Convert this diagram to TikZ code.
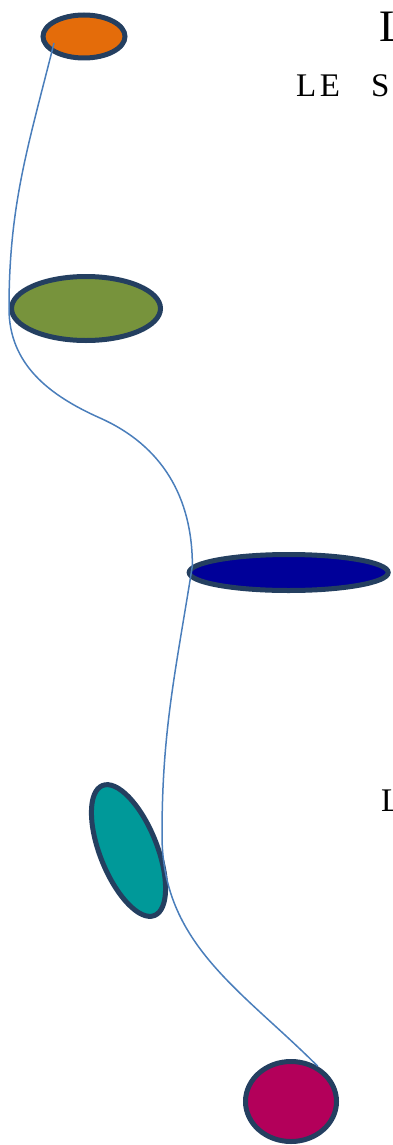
\documentclass[tikz,border=0pt]{standalone}
\usepackage{fontspec}
\setmainfont{Liberation Serif}
\usetikzlibrary{shapes.geometric,calc}
\definecolor{rim}{HTML}{243F60}
\definecolor{wire}{HTML}{4A7EBB}
\definecolor{orangefill}{HTML}{E46C0A}
\definecolor{greenfill}{HTML}{77933C}
\definecolor{navyfill}{HTML}{000099}
\definecolor{tealfill}{HTML}{009999}
\definecolor{berryfill}{HTML}{B3005A}
\begin{document}
\begin{tikzpicture}[x=1pt,y=1pt,
  blob/.style={ellipse, draw=rim, line width=5pt, inner sep=0pt},
  wirepath/.style={draw=wire, line width=1.5pt},
  letters/.style={anchor=base west, inner sep=0pt}]
\useasboundingbox (0,0) rectangle (392,-1145);
\clip (0,0) rectangle (392,-1145);

% the five ellipses
\node[blob, fill=orangefill, minimum width=82pt, minimum height=43pt] (orange) at (84,-36.5) {};
\node[blob, fill=greenfill, minimum width=149pt, minimum height=64pt] (green) at (86,-308.5) {};
\node[blob, fill=navyfill, minimum width=199pt, minimum height=36pt] (navy) at (288.7,-572.5) {};
\node[blob, fill=tealfill, minimum width=140pt, minimum height=57pt, rotate=-68.2] (teal) at (128.5,-850.5) {};
\node[blob, fill=berryfill, minimum width=91pt, minimum height=80pt] (berry) at (291,-1101.5) {};

% texts cut by the right edge
\node[letters, font=\fontsize{45}{45}\selectfont] (head) at (379,-42) {L};
\node[letters, font=\fontsize{33}{33}\selectfont] (sub) at (296,-97) {L\kern3.5pt E\hspace{31pt}S};
\node[letters, font=\fontsize{33}{33}\selectfont] (lower) at (381,-811) {L};

% the thread through them
\coordinate (start) at ($(orange.center)+(-30,-6.5)$);
\coordinate (bend) at (100,-418);
\coordinate (tealside) at (162,-835);
\draw[wirepath] (start) to[out=-104, in=90] (green.west)
  to[out=-90, in=156] (bend)
  to[out=-24, in=90] (navy.176)
  to[out=-99, in=90] (tealside)
  to[out=-90, in=135] (berry.53);
\end{tikzpicture}
\end{document}
